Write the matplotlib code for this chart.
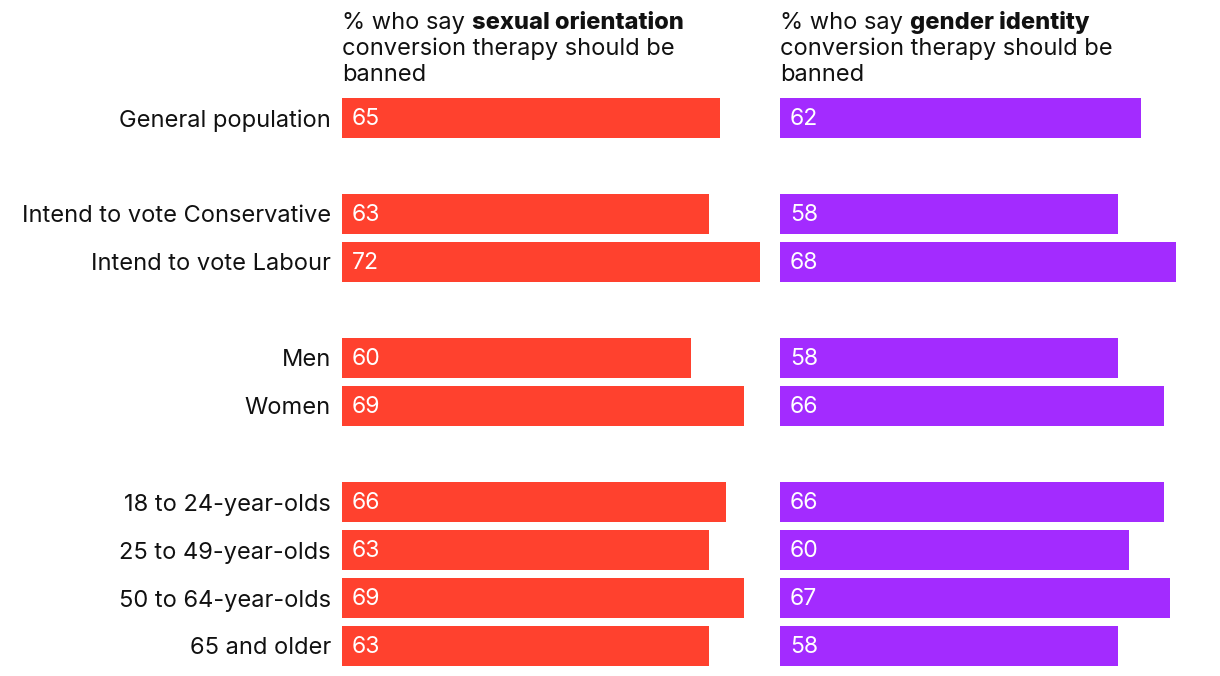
import numpy as np
import matplotlib.pyplot as plt

plt.rcParams['font.family'] = ['Inter', 'DejaVu Sans']

# data
categories = ['General population', '',
              'Intend to vote Conservative', 'Intend to vote Labour', '',
              'Men', 'Women', '',
              '18 to 24-year-olds', '25 to 49-year-olds', '50 to 64-year-olds', '65 and older']
sexual_orientation = [65, None, 63, 72, None, 60, 69, None, 66, 63, 69, 63]
gender_identity = [62, None, 58, 68, None, 58, 66, None, 66, 60, 67, 58]

panels = [
    ('sexual orientation', sexual_orientation, '#FF412E'),
    ('gender identity', gender_identity, '#A32BFF'),
]

W, H = 1220, 676
fig = plt.figure(figsize=(W / 100, H / 100), dpi=100)

xmax = 71.8
ax_w = 418
row_h = 48
top = 94
n = len(categories)
lefts = [342, 780]
fs = 17

for k, (keyword, vals, color) in enumerate(panels):
    ax = fig.add_axes([lefts[k] / W, (H - top - n * row_h) / H, ax_w / W, n * row_h / H])
    ax.set_xlim(0, xmax)
    ax.set_ylim(n - 0.5, -0.5)
    idx = [i for i, v in enumerate(vals) if v is not None]
    v = [vals[i] for i in idx]
    ax.barh(idx, v, height=40 / 48, color=color, left=0)
    for i, val in zip(idx, v):
        ax.annotate(str(val), (0, i), xytext=(10, -1), textcoords='offset pixels',
                    color='white', fontsize=16.5, va='center', ha='left')
    for s in ax.spines.values():
        s.set_visible(False)
    ax.set_xticks([])
    if k == 0:
        ax.set_yticks(idx)
        ax.set_yticklabels([categories[i] for i in idx], fontsize=fs, color='#111111')
        ax.tick_params(axis='y', length=0, pad=8)
    else:
        ax.set_yticks([])

    # title with bold keyword
    h_ax = n * row_h
    t1 = ax.text(0, 1 + (top - 29) / h_ax, '% who say ', transform=ax.transAxes,
                 fontsize=fs, va='baseline', ha='left', color='#111111')
    ax.annotate(keyword, xy=(1, 0), xycoords=t1, va='bottom', ha='left',
                fontsize=fs, fontweight='heavy', color='#111111')
    ax.text(0, 1 + (top - 55) / h_ax, 'conversion therapy should be',
            transform=ax.transAxes, fontsize=fs, va='baseline', ha='left', color='#111111')
    ax.text(0, 1 + (top - 81) / h_ax, 'banned',
            transform=ax.transAxes, fontsize=fs, va='baseline', ha='left', color='#111111')

fig.savefig('out.png', dpi=100)
